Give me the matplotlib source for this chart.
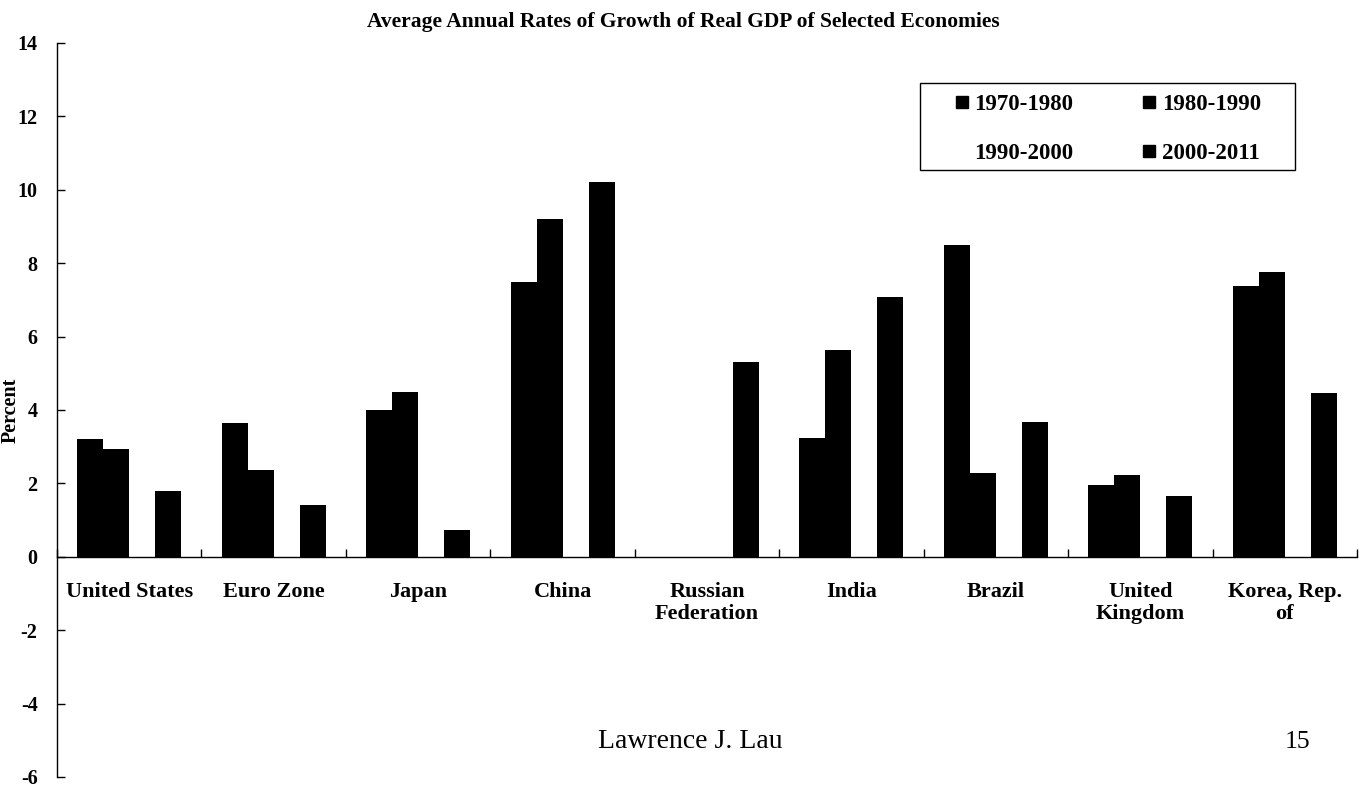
import matplotlib
matplotlib.use("Agg")
import matplotlib.pyplot as plt
from matplotlib.lines import Line2D
from matplotlib.patches import Rectangle
import numpy as np

categories = ["United States", "Euro Zone", "Japan", "China", "Russian\nFederation",
              "India", "Brazil", "United\nKingdom", "Korea, Rep.\nof"]
series_names = ["1970-1980", "1980-1990", "1990-2000", "2000-2011"]
g1970 = [3.21, 3.65, 3.99, 7.48, np.nan, 3.23, 8.50, 1.95, 7.37]
g1980 = [2.94, 2.37, 4.48, 9.20, np.nan, 5.64, 2.28, 2.23, 7.75]
g1990 = [3.2, 2.1, 1.1, 10.4, -4.7, 6.0, 2.6, 2.4, 6.3]
g2000 = [1.78, 1.40, 0.73, 10.20, 5.31, 7.07, 3.66, 1.66, 4.45]
yticks = [-6, -4, -2, 0, 2, 4, 6, 8, 10, 12, 14]

title = "Average Annual Rates of Growth of Real GDP of Selected Economies"
serif = ["Liberation Serif", "DejaVu Serif"]

fig = plt.figure(figsize=(13.67, 7.89), dpi=100)
ax = fig.add_axes([57/1367, 1-777/789, 1300/1367, (777-43)/789])

x = np.arange(len(categories))
w = 0.18
series = [g1970, g1980, g1990, g2000]
colors = ["black", "black", "white", "black"]
for k, (vals, c) in enumerate(zip(series, colors)):
    ax.bar(x + (k - 1.5) * w, vals, width=w, color=c, edgecolor="none",
           linewidth=0, zorder=1 if c == "white" else 2)

ax.set_xlim(-0.5, len(categories) - 0.5)
ax.set_ylim(-6, 14)
ax.set_yticks(yticks)
ax.set_yticklabels([str(t) for t in yticks], fontfamily=serif, fontweight="bold",
                   fontsize=14.5)
ax.tick_params(axis="y", direction="in", length=6, width=1, pad=14, colors="black")

for s in ["top", "right"]:
    ax.spines[s].set_visible(False)
ax.spines["bottom"].set_position(("data", 0))
ax.spines["left"].set_linewidth(1)
ax.spines["bottom"].set_linewidth(1)
ax.spines["bottom"].set_zorder(3)
ax.xaxis.set_zorder(3)

ax.set_xticks(x)
ax.set_xticklabels(categories, fontfamily=serif, fontweight="bold", fontsize=16,
                   linespacing=1.12)
ax.tick_params(axis="x", which="major", length=0, pad=18)
ax.set_xticks(np.arange(len(categories) + 1) - 0.5, minor=True)
ax.tick_params(axis="x", which="minor", direction="in", length=6, width=1)

ax.set_ylabel("Percent", fontfamily=serif, fontweight="bold", fontsize=14.5,
              labelpad=0)
ax.yaxis.set_label_coords(-36/1300, (4 + 6) / 20)

fig.text(0.5, 1 - 22/789, title, ha="center", va="center", fontfamily=serif,
         fontweight="bold", fontsize=15.5)

# legend box
fig.patches.append(Rectangle((920/1367, 1 - 170/789), 375/1367, 87/789,
                             transform=fig.transFigure, fill=False,
                             edgecolor="black", linewidth=1))
handles = [Line2D([], [], linestyle="none", marker="s", markersize=8.6,
                  markerfacecolor=c, markeredgecolor=c) for c in colors]
order = [0, 2, 1, 3]
leg = fig.legend([handles[i] for i in order], [series_names[i] for i in order],
                 ncol=2, loc="upper left", bbox_to_anchor=(955/1367, 1 - 94/789),
                 frameon=False,
                 prop={"family": serif, "weight": "bold", "size": 16.5},
                 handlelength=0.6, handletextpad=0.25, columnspacing=3.0,
                 labelspacing=1.2, borderpad=0, borderaxespad=0)

fig.text(690/1367, 1 - 742/789, "Lawrence J. Lau", ha="center", va="center",
         fontfamily=serif, fontsize=20)
fig.text(1297/1367, 1 - 742/789, "15", ha="center", va="center",
         fontfamily=serif, fontsize=18.5)

fig.savefig("out.png", dpi=100)
